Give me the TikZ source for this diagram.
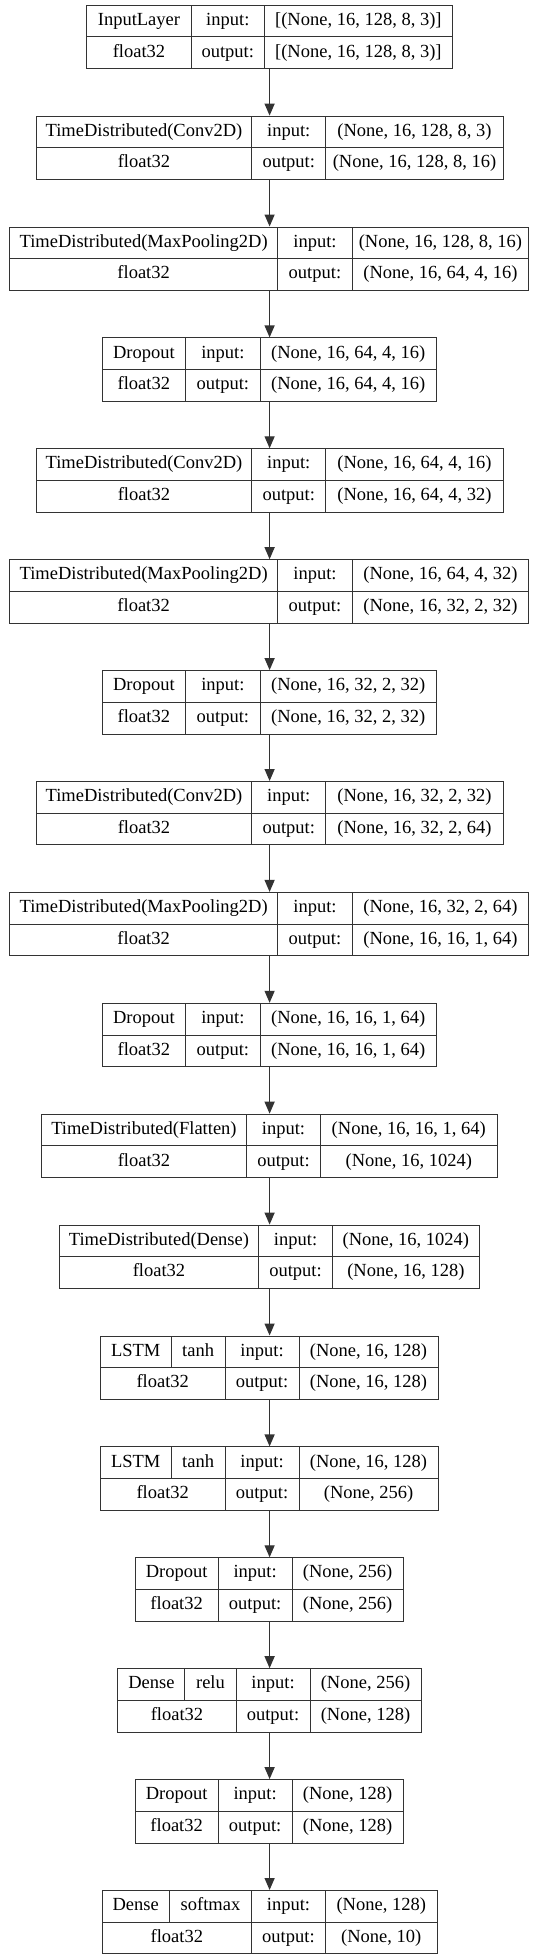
\documentclass[tikz,border=0pt]{standalone}
\usepackage{fontspec}
\setmainfont{Liberation Serif}
\usetikzlibrary{arrows.meta}
\tikzset{
  cell/.style={draw=black!80, line width=1pt, inner sep=0pt, minimum height=31.7pt,
    text height=12.5pt, text depth=4pt, font=\fontsize{18.5}{20}\selectfont, text=black, anchor=center},
  arr/.style={draw=black!80, line width=1.3pt, -{Triangle[length=12pt,width=10pt]}}
}
\newcommand\rowy[1]{%
  \pgfmathsetmacro\LYt{-(5.2+#1*110.9)}%
  \pgfmathsetmacro\LYa{\LYt-15.85}%
  \pgfmathsetmacro\LYb{\LYt-47.55}}
% name, k, x0, x1, x2, x3, layer, inshape, outshape
\newcommand\lbox[9]{%
  \rowy{#2}%
  \pgfmathsetmacro\LWa{#4-#3}\pgfmathsetmacro\LWb{#5-#4}\pgfmathsetmacro\LWc{#6-#5}%
  \pgfmathsetmacro\LCa{(#3+#4)/2}\pgfmathsetmacro\LCb{(#4+#5)/2}\pgfmathsetmacro\LCc{(#5+#6)/2}%
  \node[cell,minimum width=\LWa pt] (#1-a) at (\LCa,\LYa) {#7};
  \node[cell,minimum width=\LWb pt] (#1-b) at (\LCb,\LYa) {input:};
  \node[cell,minimum width=\LWc pt] (#1-c) at (\LCc,\LYa) {#8};
  \node[cell,minimum width=\LWa pt] (#1-d) at (\LCa,\LYb) {float32};
  \node[cell,minimum width=\LWb pt] (#1-e) at (\LCb,\LYb) {output:};
  \node[cell,minimum width=\LWc pt] (#1-f) at (\LCc,\LYb) {#9};
}
% name, k, x0, xm, x1, x2, x3, layer, activation ; shapes in \inshape \outshape
\newcommand\lboxfour[9]{%
  \rowy{#2}%
  \pgfmathsetmacro\LWa{#4-#3}\pgfmathsetmacro\LWg{#5-#4}\pgfmathsetmacro\LWd{#5-#3}%
  \pgfmathsetmacro\LWb{#6-#5}\pgfmathsetmacro\LWc{#7-#6}%
  \pgfmathsetmacro\LCa{(#3+#4)/2}\pgfmathsetmacro\LCg{(#4+#5)/2}\pgfmathsetmacro\LCd{(#3+#5)/2}%
  \pgfmathsetmacro\LCb{(#5+#6)/2}\pgfmathsetmacro\LCc{(#6+#7)/2}%
  \node[cell,minimum width=\LWa pt] (#1-a) at (\LCa,\LYa) {#8};
  \node[cell,minimum width=\LWg pt] (#1-g) at (\LCg,\LYa) {#9};
  \node[cell,minimum width=\LWb pt] (#1-b) at (\LCb,\LYa) {input:};
  \node[cell,minimum width=\LWc pt] (#1-c) at (\LCc,\LYa) {\inshape};
  \node[cell,minimum width=\LWd pt] (#1-d) at (\LCd,\LYb) {float32};
  \node[cell,minimum width=\LWb pt] (#1-e) at (\LCb,\LYb) {output:};
  \node[cell,minimum width=\LWc pt] (#1-f) at (\LCc,\LYb) {\outshape};
}
\begin{document}
\begin{tikzpicture}[x=1pt,y=1pt]
\useasboundingbox[fill=white] (0,0) rectangle (536,-1955);
\coordinate (ax) at (269.6,0);
\lbox{b1}{0}{86.9}{191}{264.6}{452.2}{InputLayer}{[(None, 16, 128, 8, 3)]}{[(None, 16, 128, 8, 3)]}
\lbox{b2}{1}{36.1}{251.9}{325.6}{503.4}{TimeDistributed(Conv2D)}{(None, 16, 128, 8, 3)}{(None, 16, 128, 8, 16)}
\lbox{b3}{2}{9.6}{277.7}{352.2}{528.7}{TimeDistributed(MaxPooling2D)}{(None, 16, 128, 8, 16)}{(None, 16, 64, 4, 16)}
\lbox{b4}{3}{102.1}{185.6}{260.1}{436.4}{Dropout}{(None, 16, 64, 4, 16)}{(None, 16, 64, 4, 16)}
\lbox{b5}{4}{36.1}{251.9}{325.6}{503.4}{TimeDistributed(Conv2D)}{(None, 16, 64, 4, 16)}{(None, 16, 64, 4, 32)}
\lbox{b6}{5}{9.6}{277.7}{352.2}{528.7}{TimeDistributed(MaxPooling2D)}{(None, 16, 64, 4, 32)}{(None, 16, 32, 2, 32)}
\lbox{b7}{6}{102.1}{185.6}{260.1}{436.4}{Dropout}{(None, 16, 32, 2, 32)}{(None, 16, 32, 2, 32)}
\lbox{b8}{7}{36.1}{251.9}{325.6}{503.4}{TimeDistributed(Conv2D)}{(None, 16, 32, 2, 32)}{(None, 16, 32, 2, 64)}
\lbox{b9}{8}{9.6}{277.7}{352.2}{528.7}{TimeDistributed(MaxPooling2D)}{(None, 16, 32, 2, 64)}{(None, 16, 16, 1, 64)}
\lbox{b10}{9}{102.1}{185.6}{260.1}{436.4}{Dropout}{(None, 16, 16, 1, 64)}{(None, 16, 16, 1, 64)}
\lbox{b11}{10}{41.2}{246.7}{320.3}{497.3}{TimeDistributed(Flatten)}{(None, 16, 16, 1, 64)}{(None, 16, 1024)}
\lbox{b12}{11}{59.1}{258.8}{332.3}{479.4}{TimeDistributed(Dense)}{(None, 16, 1024)}{(None, 16, 128)}
\def\inshape{(None, 16, 128)}\def\outshape{(None, 16, 128)}
\lboxfour{b13}{12}{100.3}{171.1}{225.1}{299}{438.1}{LSTM}{tanh}
\def\inshape{(None, 16, 128)}\def\outshape{(None, 256)}
\lboxfour{b14}{13}{100.3}{171.1}{225.1}{299}{438.1}{LSTM}{tanh}
\lbox{b15}{14}{135.1}{218.2}{292.1}{403.1}{Dropout}{(None, 256)}{(None, 256)}
\def\inshape{(None, 256)}\def\outshape{(None, 128)}
\lboxfour{b16}{15}{117.9}{184.9}{236.1}{310}{421}{Dense}{relu}
\lbox{b17}{16}{135.1}{218.2}{292.1}{403.1}{Dropout}{(None, 128)}{(None, 128)}
\def\inshape{(None, 128)}\def\outshape{(None, 10)}
\lboxfour{b18}{17}{102.1}{169.4}{251.5}{325.4}{437.1}{Dense}{softmax}
\foreach \i in {1,...,17}{
  \pgfmathtruncatemacro\j{\i+1}
  \draw[arr] (b\i-f.south -| ax) -- (b\j-b.north -| ax);
}
\end{tikzpicture}
\end{document}
